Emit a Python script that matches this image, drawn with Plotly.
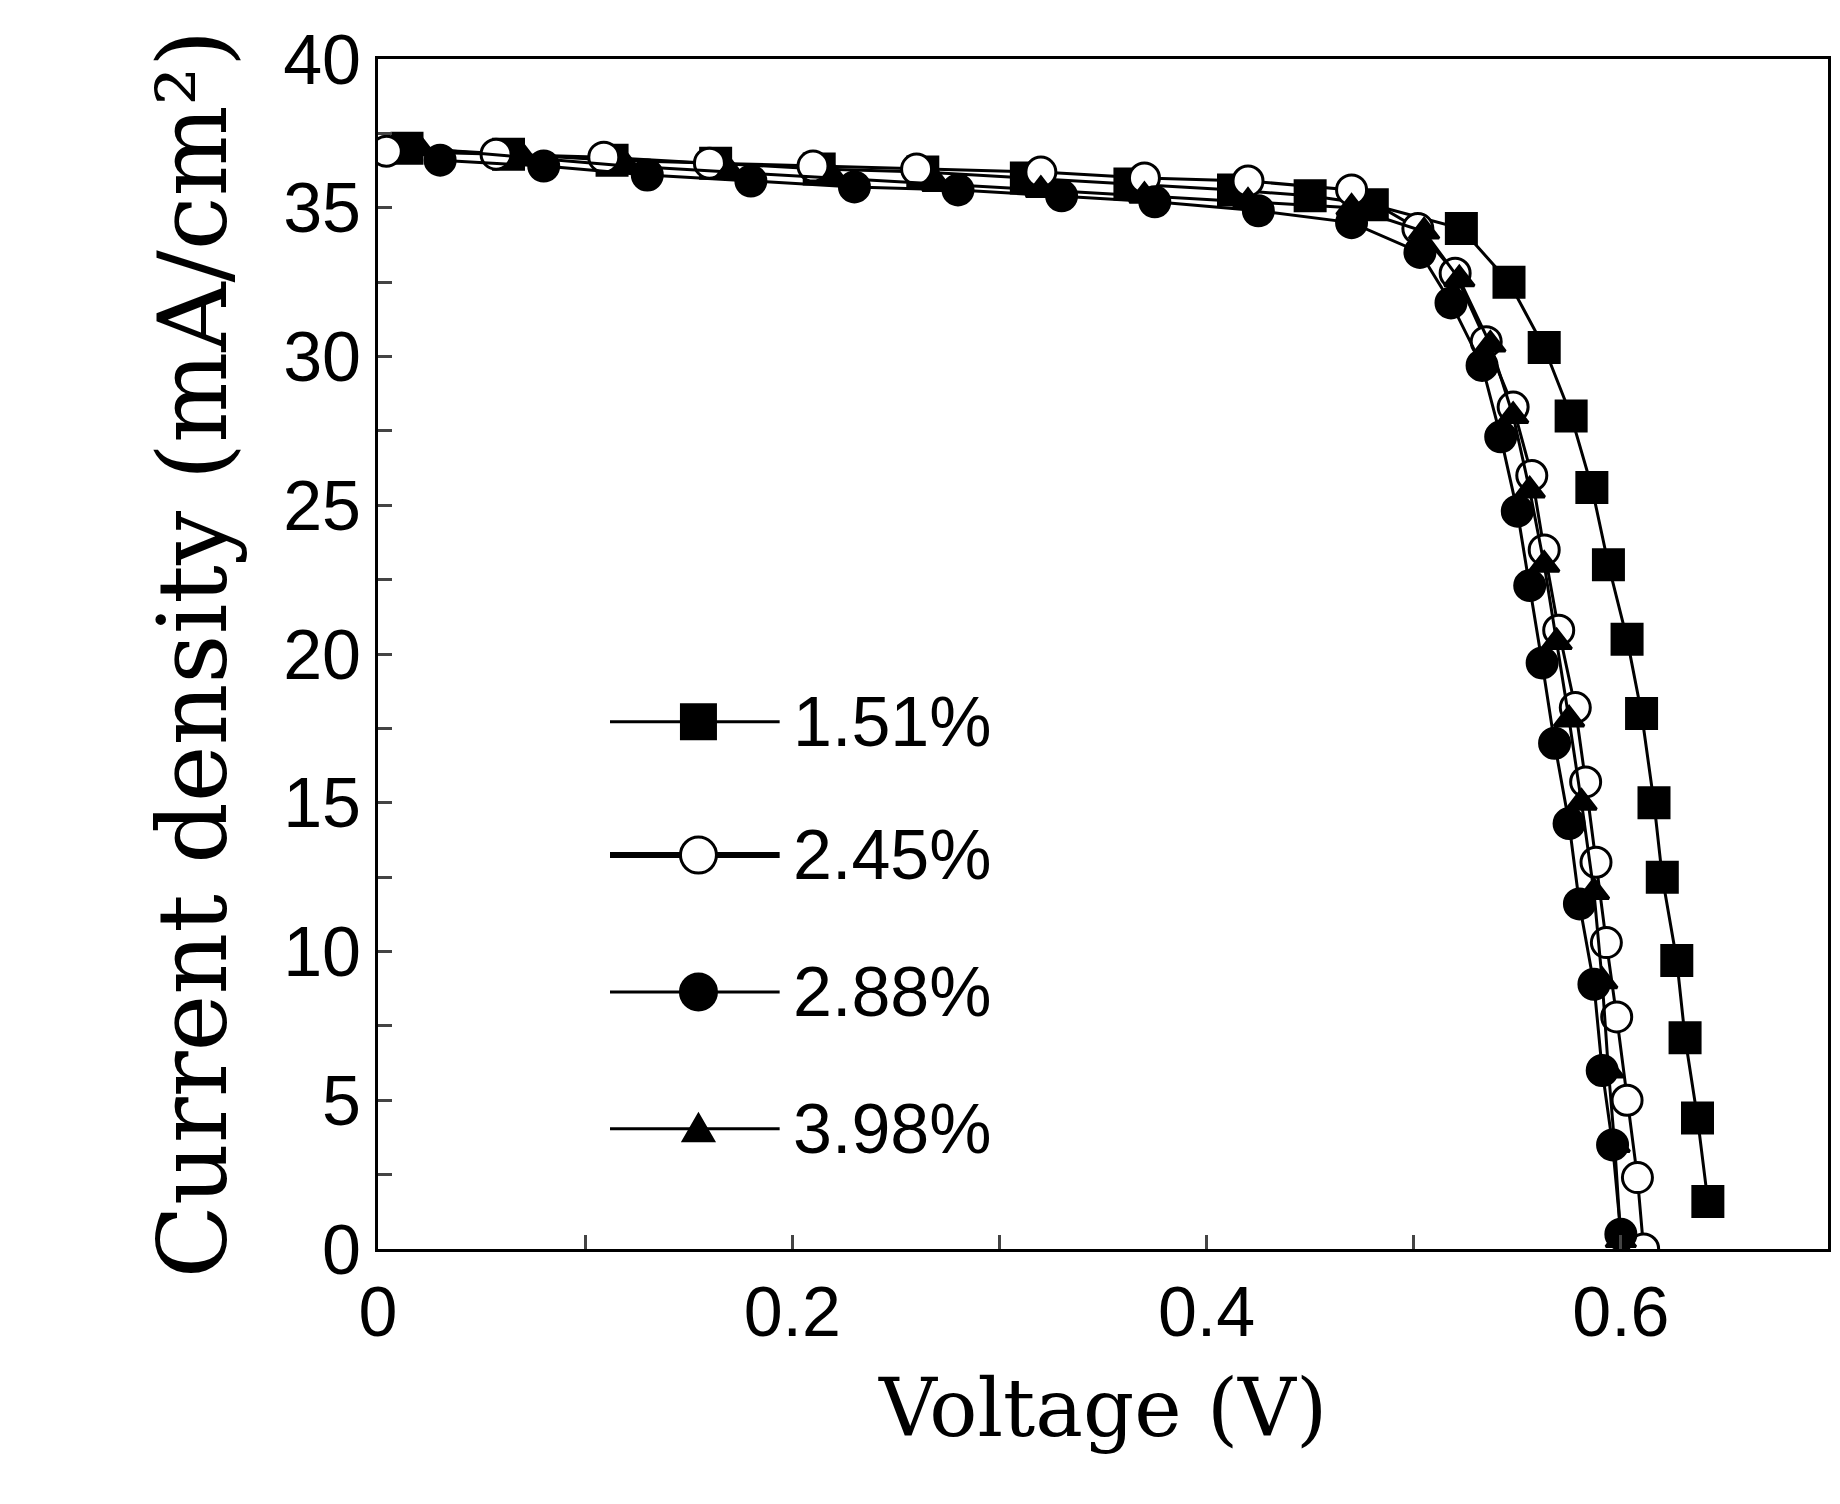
import plotly.graph_objects as go

names = ["1.51%", "2.45%", "2.88%", "3.98%"]
v_sq = [0.014,0.063,0.113,0.163,0.213,0.263,0.313,0.363,0.413,0.45,0.48,0.523,0.546,0.563,0.576,0.586,0.594,0.603,0.610,0.616,0.620,0.627,0.631,0.637,0.642]
j_sq = [37.0,36.8,36.6,36.5,36.3,36.2,36.0,35.8,35.6,35.4,35.1,34.3,32.5,30.3,28.0,25.6,23.0,20.5,18.0,15.0,12.5,9.7,7.1,4.4,1.6]
v_oc = [0.004,0.057,0.109,0.16,0.21,0.26,0.32,0.37,0.42,0.47,0.502,0.52,0.535,0.548,0.557,0.563,0.57,0.578,0.583,0.588,0.593,0.598,0.603,0.608,0.611]
j_oc = [36.9,36.8,36.7,36.5,36.4,36.3,36.2,36.0,35.9,35.6,34.3,32.8,30.5,28.3,26.0,23.5,20.8,18.2,15.7,13.0,10.3,7.8,5.0,2.4,0.0]
v_fc = [0.03,0.08,0.13,0.18,0.23,0.28,0.33,0.375,0.425,0.47,0.503,0.518,0.533,0.542,0.55,0.556,0.562,0.568,0.575,0.58,0.587,0.591,0.596,0.600]
j_fc = [36.6,36.4,36.1,35.9,35.7,35.6,35.4,35.2,34.9,34.5,33.5,31.8,29.7,27.3,24.8,22.3,19.7,17.0,14.3,11.6,8.9,6.0,3.5,0.5]
v_tr = [0.02,0.07,0.12,0.17,0.22,0.27,0.32,0.37,0.42,0.47,0.505,0.522,0.537,0.548,0.556,0.563,0.569,0.575,0.581,0.587,0.591,0.594,0.597,0.600]
j_tr = [37.0,36.7,36.4,36.2,36.0,35.8,35.6,35.4,35.2,35.0,34.2,32.6,30.4,28.0,25.5,23.0,20.4,17.8,15.0,12.0,9.0,6.0,3.5,0.3]

series = [(v_sq, j_sq, "square", "black"), (v_oc, j_oc, "circle", "white"),
          (v_fc, j_fc, "circle", "black"), (v_tr, j_tr, "triangle-up", "black")]

fig = go.Figure()
for i, (v, j, sym, fc) in enumerate(series):
    fig.add_trace(go.Scatter(x=v, y=j, mode="lines+markers", name=names[i], showlegend=False,
                             line=dict(color="black", width=3),
                             marker=dict(symbol=sym, size=30 if sym != "triangle-up" else 26, color=fc,
                                         line=dict(color="black", width=3))))

# manual legend (paper coordinates)
rows_y = [0.443, 0.331, 0.216, 0.101]
lx0, lx1, mx, tx = 0.160, 0.277, 0.221, 0.285
for i, ry in enumerate(rows_y):
    lw = 6 if i == 1 else 3
    fig.add_shape(type="line", xref="paper", yref="paper", x0=lx0, x1=lx1, y0=ry, y1=ry,
                  line=dict(color="black", width=lw))
    sym, fc = series[i][2], series[i][3]
    common = dict(xref="paper", yref="paper", xsizemode="pixel", ysizemode="pixel",
                  xanchor=mx, yanchor=ry, fillcolor=fc, line=dict(color="black", width=3))
    if sym == "square":
        fig.add_shape(type="rect", x0=-17, x1=17, y0=-17, y1=17, **common)
    elif sym == "circle":
        fig.add_shape(type="circle", x0=-18, x1=18, y0=-18, y1=18, **common)
    else:
        fig.add_shape(type="path", path="M -15 -12 L 15 -12 L 0 14 Z", **common)
    fig.add_annotation(xref="paper", yref="paper", x=tx, y=ry, text=names[i], showarrow=False,
                       xanchor="left", yanchor="middle", font=dict(size=70))

fig.update_layout(
    width=1840, height=1504, plot_bgcolor="white", paper_bgcolor="white",
    margin=dict(l=370, r=20, t=49, b=263),
    font=dict(family="Liberation Sans, Arial", size=70, color="black"),
    xaxis=dict(range=[0, 0.7], tickvals=[0, 0.2, 0.4, 0.6], ticktext=["0", "0.2", "0.4", "0.6"],
               showline=True, linecolor="black", linewidth=3, mirror=True, ticks="inside",
               ticklen=14, tickwidth=3, showgrid=False, zeroline=False,
               minor=dict(dtick=0.1, ticks="inside", ticklen=14, tickwidth=3),
               title=dict(text="Voltage (V)", font=dict(family="DejaVu Serif", size=80), standoff=30)),
    yaxis=dict(range=[0, 40], dtick=5, showline=True, linecolor="black", linewidth=3, mirror=True,
               ticks="inside", ticklen=14, tickwidth=3, showgrid=False, zeroline=False,
               minor=dict(dtick=2.5, ticks="inside", ticklen=14, tickwidth=3),
               title=dict(text="Current density (mA/cm²)", font=dict(family="DejaVu Serif", size=96), standoff=25)),
)
fig.write_html("out.html")
